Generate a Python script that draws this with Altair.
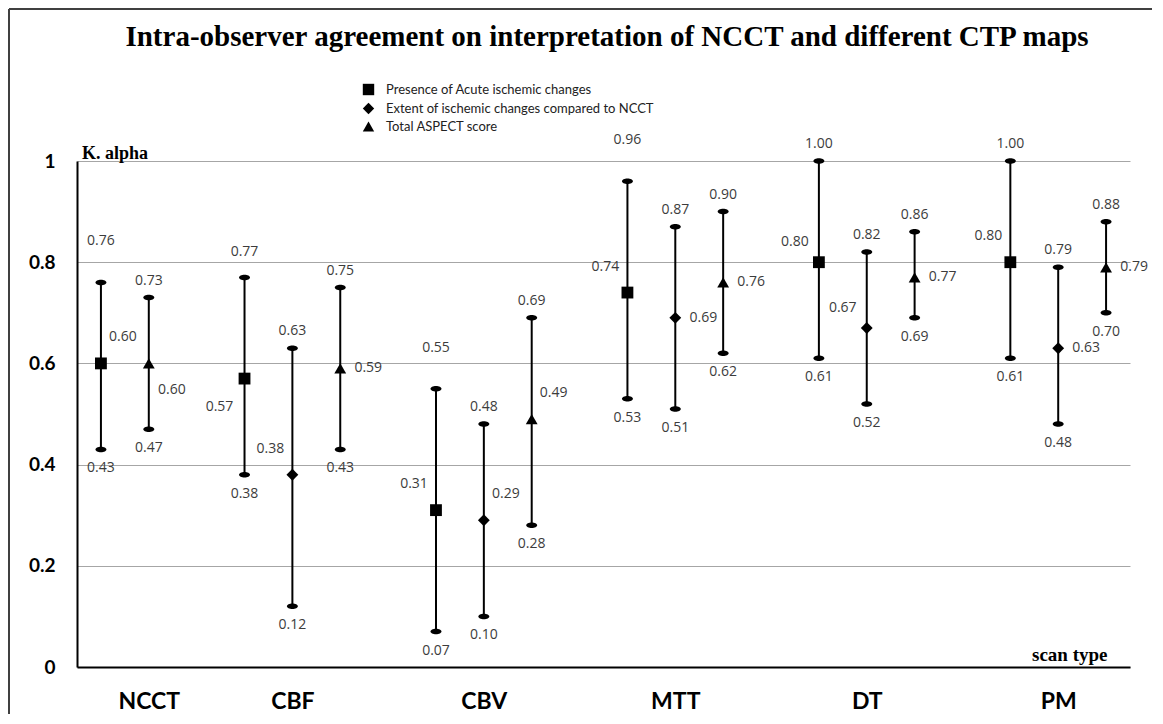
import altair as alt
import pandas as pd

# ---------------- data ----------------
scans = ["NCCT", "CBF", "CBV", "MTT", "DT", "PM"]
measures = [
    "Presence of Acute ischemic changes",
    "Extent of ischemic changes compared to NCCT",
    "Total ASPECT score",
]

pt_scan = ["NCCT", "NCCT",
           "CBF", "CBF", "CBF",
           "CBV", "CBV", "CBV",
           "MTT", "MTT", "MTT",
           "DT", "DT", "DT",
           "PM", "PM", "PM"]
pt_measure = [0, 2,
              0, 1, 2,
              0, 1, 2,
              0, 1, 2,
              0, 1, 2,
              0, 1, 2]
pt_mean = [0.60, 0.60,
           0.57, 0.38, 0.59,
           0.31, 0.29, 0.49,
           0.74, 0.69, 0.76,
           0.80, 0.67, 0.77,
           0.80, 0.63, 0.79]
pt_low = [0.43, 0.47,
          0.38, 0.12, 0.43,
          0.07, 0.10, 0.28,
          0.53, 0.51, 0.62,
          0.61, 0.52, 0.69,
          0.61, 0.48, 0.70]
pt_high = [0.76, 0.73,
           0.77, 0.63, 0.75,
           0.55, 0.48, 0.69,
           0.96, 0.87, 0.90,
           1.00, 0.82, 0.86,
           1.00, 0.79, 0.88]

# label placement codes (style, not data)
mean_label_pos = ["NE", "SE",
                  "SW", "NW", "E",
                  "NW", "NE", "NE",
                  "NW", "E", "E",
                  "NWs", "NWs", "E",
                  "NW", "E", "E"]
high_label_pos = ["far", "near",
                  "mid", "near", "near",
                  "far", "near", "near",
                  "far", "near", "near",
                  "near", "near", "near",
                  "near", "near", "near"]

# ---------------- layout of slots (rows of the sheet, blank row between groups) ----------------
slots = []
label_slot = {}
s = 0
for sc in scans:
    n = pt_scan.count(sc)
    label_slot[sc] = s + 1
    slots.extend(range(s, s + n))
    s += n + 1
n_slots = s - 1

df = pd.DataFrame({
    "slot": slots,
    "scan": pt_scan,
    "measure": [measures[i] for i in pt_measure],
    "mean": pt_mean,
    "low": pt_low,
    "high": pt_high,
    "mpos": mean_label_pos,
    "hpos": high_label_pos,
})

names = [""] * n_slots
for sc, sl in label_slot.items():
    names[sl] = sc
label_expr = "[" + ",".join("'%s'" % n for n in names) + "][datum.value]"

SANS = "Open Sans"
BOLD_SANS = "Lato"
SERIF = "Liberation Serif"
LABEL_COLOR = "#3c3c3c"

x_axis = alt.Axis(
    values=list(label_slot.values()),
    labelExpr=label_expr,
    grid=False, ticks=False, tickSize=0,
    domainColor="black", domainWidth=2,
    labelFont=BOLD_SANS, labelFontWeight="bold", labelFontSize=23,
    labelColor="black", labelPadding=23, title=None,
)
y_axis = alt.Axis(
    values=[0, 0.2, 0.4, 0.6, 0.8, 1.0], format="~g",
    grid=True, gridColor="#a6a6a6", gridWidth=1,
    ticks=False, tickSize=0,
    domainColor="black", domainWidth=2,
    labelFont=BOLD_SANS, labelFontWeight="bold", labelFontSize=19,
    labelColor="black", labelPadding=22, title=None,
)
x_scale = alt.Scale(domain=[-0.5, n_slots - 0.5], nice=False, zero=False)
y_scale = alt.Scale(domain=[0, 1], nice=False)


def X():
    return alt.X("slot:Q", scale=x_scale, axis=x_axis)


def Yf(field):
    return alt.Y(field + ":Q", scale=y_scale, axis=y_axis)


base = alt.Chart(df)

bars = base.mark_rule(color="black", strokeWidth=2).encode(
    x=X(), y=Yf("low"), y2="high:Q"
)

ellipse = "M-1,0A1,0.5,0,1,1,1,0A1,0.5,0,1,1,-1,0Z"
caps = base.transform_fold(["low", "high"], as_=["end", "val"]).mark_point(
    shape=ellipse, filled=True, color="black", size=121, opacity=1
).encode(x=X(), y=Yf("val"))

means = base.mark_point(filled=True, color="black", opacity=1, size=140).encode(
    x=X(),
    y=Yf("mean"),
    shape=alt.Shape(
        "measure:N",
        scale=alt.Scale(domain=measures, range=["square", "diamond", "triangle-up"]),
        legend=alt.Legend(
            title=None, orient="none", legendX=285, legendY=-78,
            labelFont=BOLD_SANS, labelFontSize=13, labelColor="#222222",
            labelLimit=500, symbolSize=130, symbolFillColor="black",
            symbolStrokeColor="black", rowPadding=0, labelOffset=11,
        ),
    ),
)

layers = [bars, caps, means]

txt_kw = dict(font=SANS, fontSize=14, color=LABEL_COLOR, align="center", baseline="middle")

layers.append(
    base.mark_text(dy=19, **txt_kw).encode(
        x=X(), y=Yf("low"), text=alt.Text("low:Q", format=".2f")
    )
)

high_off = {"near": -17, "mid": -25, "far": -41}
for code, dy in high_off.items():
    layers.append(
        base.transform_filter(alt.datum.hpos == code).mark_text(dy=dy, **txt_kw).encode(
            x=X(), y=Yf("high"), text=alt.Text("high:Q", format=".2f")
        )
    )

mean_off = {"NE": (22, -26), "SE": (23, 27), "SW": (-25, 28), "NW": (-22, -26),
            "NWs": (-24, -20), "E": (28, 0)}
for code, (dx, dy) in mean_off.items():
    layers.append(
        base.transform_filter(alt.datum.mpos == code).mark_text(dx=dx, dy=dy, **txt_kw).encode(
            x=X(), y=Yf("mean"), text=alt.Text("mean:Q", format=".2f")
        )
    )

one = pd.DataFrame({"k": [0]})
deco = alt.Chart(one)

title = deco.mark_text(
    text="Intra-observer agreement on interpretation of NCCT and different CTP maps",
    font=SERIF, fontSize=29, fontWeight="bold", color="black",
    align="center", baseline="alphabetic",
).encode(x=alt.value(530), y=alt.value(-115))

kalpha = deco.mark_text(
    text="K. alpha", font=SERIF, fontSize=18, fontWeight="bold", color="black",
    align="left", baseline="alphabetic",
).encode(x=alt.value(5), y=alt.value(-2))

scantype = deco.mark_text(
    text="scan type", font=SERIF, fontSize=19, fontWeight="bold", color="black",
    align="left", baseline="alphabetic",
).encode(x=alt.value(955), y=alt.value(500))

frame_left = deco.mark_rule(color="#404040", strokeWidth=2).encode(
    x=alt.value(-68), y=alt.value(-152), y2=alt.value(553)
)
frame_top = deco.mark_rule(color="#404040", strokeWidth=2).encode(
    x=alt.value(-68), x2=alt.value(1075), y=alt.value(-152)
)

layers += [title, kalpha, scantype, frame_left, frame_top]

chart = alt.layer(*layers).properties(
    width=1053, height=506,
    padding={"left": 0, "top": 0, "right": 0, "bottom": 0},
    background="white",
).configure_view(stroke=None)

chart.save("out.html", embed_options={"renderer": "svg", "actions": False})
